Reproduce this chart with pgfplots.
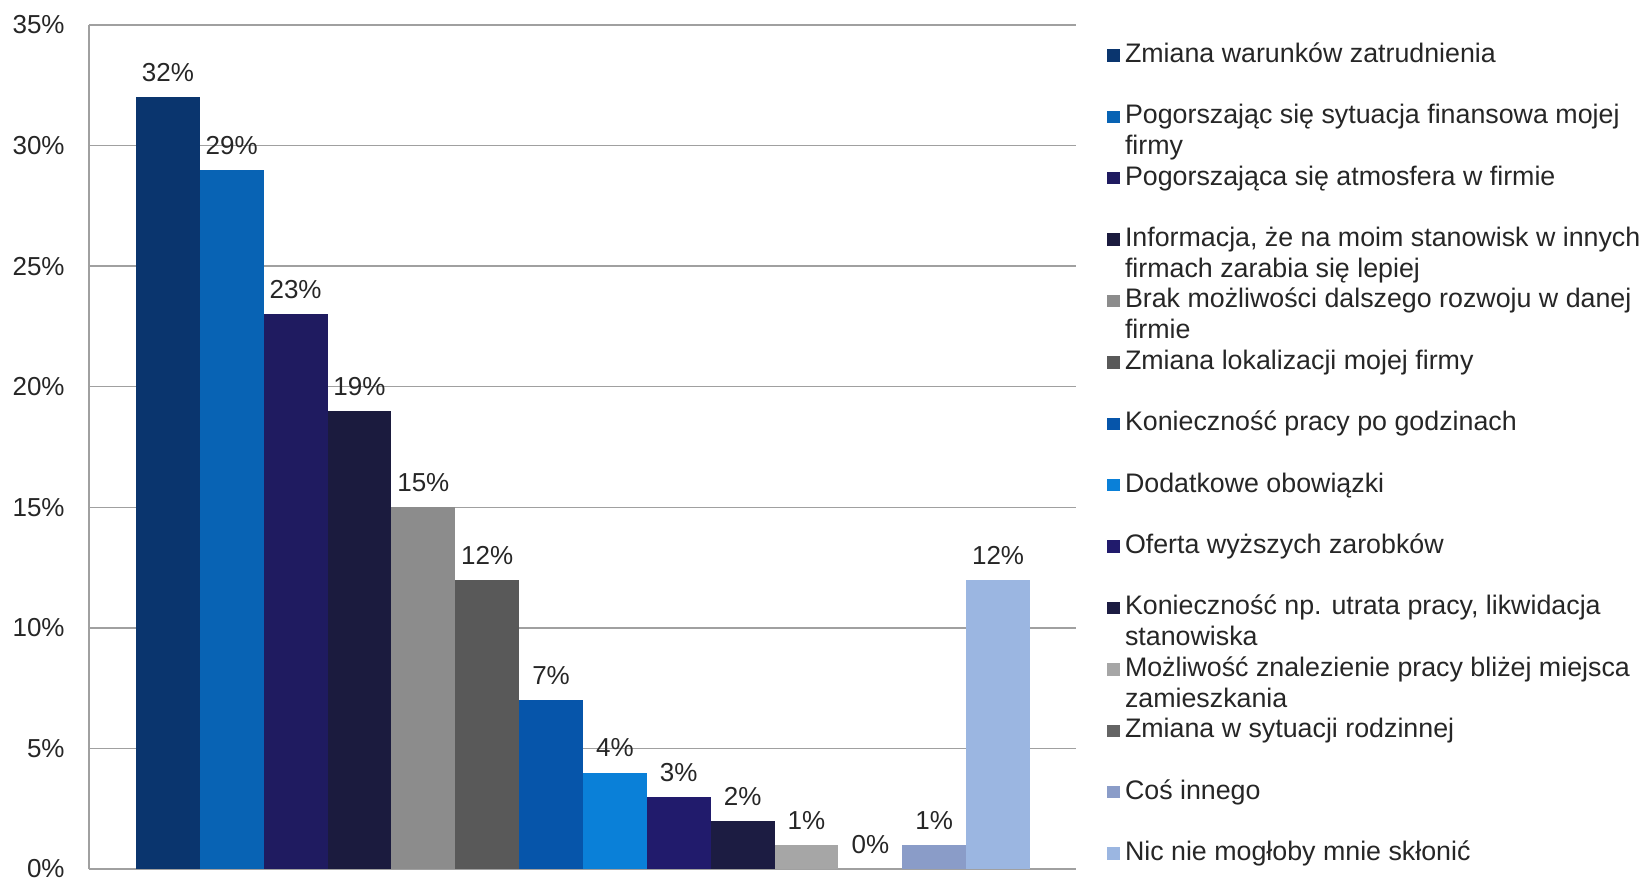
\documentclass[border=0pt]{standalone}
\usepackage{fontspec}
\setmainfont{Liberation Sans}
\usepackage{pgfplots}
\pgfplotsset{compat=1.18}

\definecolor{c1}{RGB}{10,53,110}
\definecolor{c2}{RGB}{8,99,180}
\definecolor{c3}{RGB}{31,27,96}
\definecolor{c4}{RGB}{27,27,62}
\definecolor{c5}{RGB}{140,140,140}
\definecolor{c6}{RGB}{89,89,89}
\definecolor{c7}{RGB}{6,85,170}
\definecolor{c8}{RGB}{10,128,216}
\definecolor{c9}{RGB}{33,27,108}
\definecolor{c10}{RGB}{28,28,66}
\definecolor{c11}{RGB}{166,166,166}
\definecolor{c12}{RGB}{100,100,100}
\definecolor{c13}{RGB}{138,156,200}
\definecolor{c14}{RGB}{155,182,225}
\definecolor{txt}{RGB}{38,38,38}
\definecolor{gridc}{RGB}{160,160,160}

\newcommand{\chartfont}{\fontsize{13bp}{15.35bp}\selectfont}
\newcommand{\legfont}{\fontsize{13.4bp}{15.35bp}\selectfont}
% every legend entry takes two lines, so all rows are equally tall
\newcommand{\lt}[2]{\parbox[t]{280bp}{\strut #1\\\strut #2}}

\begin{document}
\begin{tikzpicture}
\useasboundingbox (-44.5bp,-6bp) rectangle (776bp,434.5bp);
\begin{axis}[
    scale only axis,
    width=493.5bp,
    height=422bp,
    ybar,
    bar width=1,
    bar shift=0pt,
    xmin=-1.235, xmax=14.22,
    ymin=0, ymax=35,
    xtick=\empty,
    ytick={0,5,...,35},
    yticklabel={\pgfmathprintnumber{\tick}\%},
    /pgf/number format/assume math mode=true,
    major tick length=0pt,
    ymajorgrids,
    major grid style={draw=gridc, line width=0.75bp},
    axis x line*=bottom,
    axis y line*=left,
    axis line style={draw=gridc, line width=0.75bp, -},
    tick label style={font=\chartfont, text=txt},
    yticklabel style={inner sep=0pt, xshift=-12bp},
    nodes near coords={\pgfmathprintnumber{\pgfplotspointmeta}\%},
    nodes near coords style={font=\chartfont, text=txt, inner sep=0pt, anchor=south, yshift=7.5bp},
    every axis plot post/.append style={
        draw=none,
        legend image code/.code={\fill[##1] (0bp,5bp) rectangle (6.3bp,11.2bp);}
    },
    legend cell align=left,
    legend style={
        at={(axis description cs:1,1)},
        anchor=north west,
        xshift=15.5bp,
        yshift=-7.75bp,
        draw=none,
        fill=none,
        inner sep=0pt,
        row sep=0pt,
        column sep=2.5bp,
        font=\legfont,
        text=txt,
        nodes={inner sep=0pt, text height=10.75bp, text depth=19.95bp}
    }
]
\addplot[fill=c1]  coordinates {(0,32)};
\addlegendentry{\lt{Zmiana warunków zatrudnienia}{}}
\addplot[fill=c2]  coordinates {(1,29)};
\addlegendentry{\lt{Pogorszając się sytuacja finansowa mojej}{firmy}}
\addplot[fill=c3]  coordinates {(2,23)};
\addlegendentry{\lt{Pogorszająca się atmosfera w firmie}{}}
\addplot[fill=c4]  coordinates {(3,19)};
\addlegendentry{\lt{Informacja, że na moim stanowisk w innych}{firmach zarabia się lepiej}}
\addplot[fill=c5]  coordinates {(4,15)};
\addlegendentry{\lt{Brak możliwości dalszego rozwoju w danej}{firmie}}
\addplot[fill=c6]  coordinates {(5,12)};
\addlegendentry{\lt{Zmiana lokalizacji mojej firmy}{}}
\addplot[fill=c7]  coordinates {(6,7)};
\addlegendentry{\lt{Konieczność pracy po godzinach}{}}
\addplot[fill=c8]  coordinates {(7,4)};
\addlegendentry{\lt{Dodatkowe obowiązki}{}}
\addplot[fill=c9]  coordinates {(8,3)};
\addlegendentry{\lt{Oferta wyższych zarobków}{}}
\addplot[fill=c10] coordinates {(9,2)};
\addlegendentry{\lt{Konieczność np. utrata pracy, likwidacja}{stanowiska}}
\addplot[fill=c11] coordinates {(10,1)};
\addlegendentry{\lt{Możliwość znalezienie pracy bliżej miejsca}{zamieszkania}}
\addplot[fill=c12] coordinates {(11,0)};
\addlegendentry{\lt{Zmiana w sytuacji rodzinnej}{}}
\addplot[fill=c13] coordinates {(12,1)};
\addlegendentry{\lt{Coś innego}{}}
\addplot[fill=c14] coordinates {(13,12)};
\addlegendentry{\lt{Nic nie mogłoby mnie skłonić}{}}
\end{axis}
\end{tikzpicture}
\end{document}
